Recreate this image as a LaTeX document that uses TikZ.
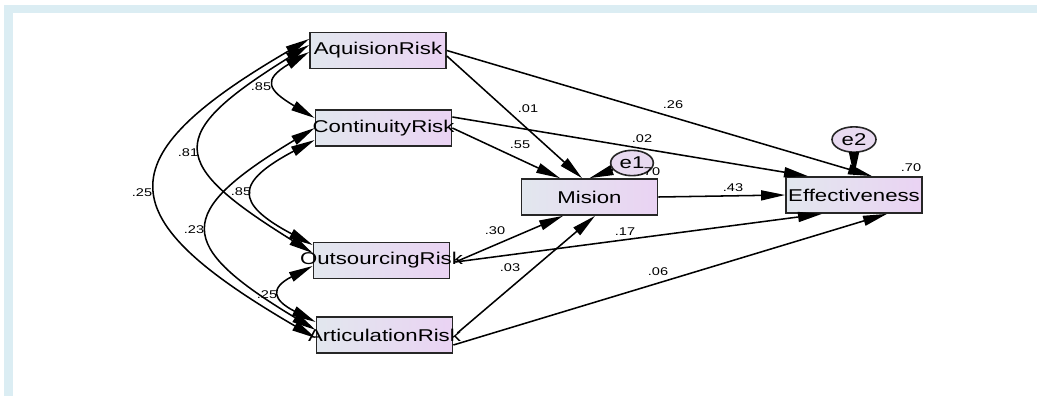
\documentclass[tikz,border=0pt]{standalone}
\usepackage{fontspec}
\setmainfont{Liberation Sans}[FakeStretch=1.3]
\usetikzlibrary{arrows.meta,calc,shapes.geometric}
\definecolor{boxl}{RGB}{226,231,238}
\definecolor{boxr}{RGB}{234,211,243}
\definecolor{errc}{RGB}{232,218,240}
\definecolor{framec}{RGB}{219,237,243}
\newcommand{\wide}[1]{\makebox[0pt]{#1}}
\tikzset{box/.style={draw=black!85,line width=1.3pt,left color=boxl,right color=boxr,minimum width=102pt,minimum height=27pt,inner sep=0pt,font=\fontsize{12.8}{14}\selectfont},
  err/.style={ellipse,draw=black!85,line width=1.2pt,fill=errc,minimum width=32pt,minimum height=19pt,inner sep=0pt,font=\fontsize{12.8}{14}\selectfont},
  arr/.style={-{Triangle[length=18pt,width=7.5pt]},line width=1.15pt},
  cov/.style={{Triangle[length=18pt,width=7.5pt]}-{Triangle[length=18pt,width=7.5pt]},line width=1.15pt},
  lbl/.style={font=\fontsize{8.4}{10}\selectfont,inner sep=0pt}}
\begin{document}
\begin{tikzpicture}[x=0.75pt,y=-0.75pt]
\useasboundingbox (0,0) rectangle (1037,396);
\fill[framec] (4,5) rectangle (1037,12.7); \fill[framec] (4,5) rectangle (12.7,396);
% observed variables
\node[box] (aq) at (378,50.5) {\wide{AquisionRisk}};
\node[box] (co) at (383.5,128) {\wide{ContinuityRisk}};
\node[box] (ou) at (381.5,260.5) {\wide{OutsourcingRisk}};
\node[box] (ar) at (384.5,335) {\wide{ArticulationRisk}};
\node[box] (mi) at (589.5,197) {\wide{Mision}};
\node[box] (ef) at (854,195) {\wide{Effectiveness}};
\node[err] (e1) at (632,163) {e1};
\node[err,minimum width=33pt] (e2) at (854,139.5) {e2};
% covariances
\foreach \p/\pp/\q/\qq/\d/\h in {aq/1.5/co/-10/47/28, aq/-5.5/ou/-7.5/145/90, aq/-11.5/ar/3/206/120,
  co/12/ou/-15.5/79/42, co/0/ar/-5/141/85, ou/5.5/ar/-13/43/22}
  \draw[cov] ($(\p.west)+(0,\pp)$) .. controls +(-\d,\h) and +(-\d,-\h) .. ($(\q.west)+(0,\qq)$);
% paths
\draw[arr] ($(aq.east)+(0,5.5)$) -- ($(mi.north)+(-7.5,0)$); \draw[arr] (aq.east) -- ($(ef.north)+(18,0)$);
\draw[arr] (co.east) -- ($(mi.north)+(-29.5,0)$); \draw[arr] ($(co.east)+(0,-11)$) -- ($(ef.north)+(-46,0)$);
\draw[arr] ($(ou.east)+(5,1.5)$) -- ($(mi.south)+(-26.5,0)$); \draw[arr] ($(ou.east)+(5,1.5)$) -- ($(ef.south)+(-32,0)$);
\draw[arr] ($(ar.east)+(4,-2)$) -- ($(mi.south)+(5.5,0)$); \draw[arr] ($(ar.east)+(0,10)$) -- ($(ef.south)+(33,0)$);
\draw[arr] (mi.east) -- (ef.west);
\draw[arr] (e1) -- (mi.north); \draw[arr] (e2) -- (ef.north);
% estimates
\foreach \x/\y/\t [count=\i] in {261/87/.85, 188/153/.81, 142/193/.25, 241/192/.85, 194/230/.23, 267/295/.25,
  528/109/.01, 520/145/.55, 673/105/.26, 642/139/.02, 650/172/.70, 733/188/.43, 495/231/.30,
  625/232/.17, 510/268/.03, 658/272/.06, 911/168/.70}
  \node[lbl] (v\i) at (\x,\y) {\t};
\end{tikzpicture}
\end{document}
